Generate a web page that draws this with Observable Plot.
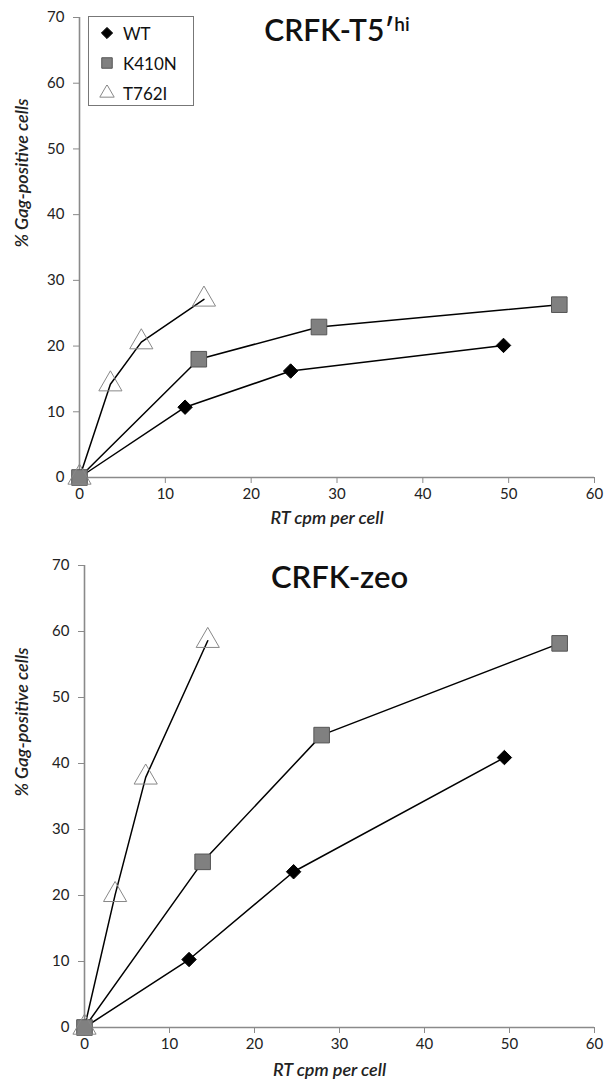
<!DOCTYPE html>
<html>
<head>
<meta charset="utf-8">
<script src="https://cdn.jsdelivr.net/npm/d3@7"></script>
<script src="https://cdn.jsdelivr.net/npm/@observablehq/plot@0.6"></script>
<style>
  html, body { margin: 0; padding: 0; background: #fff; }
  #wrap { position: relative; width: 604px; height: 1083px; font-family: Lato, "Open Sans", sans-serif; }
  .chart svg { display: block; }
  .legend { position: absolute; left: 88px; top: 16px; width: 104px; height: 88px; border: 1px solid #777; background: #fff; }
  .legend .item { position: absolute; left: 10px; height: 26px; display: flex; align-items: center; font-size: 17px; color: #111; }
  .legend .item svg { margin-right: 8px; }
</style>
</head>
<body>
<div id="wrap">
  <div class="chart" id="top"></div>
  <div class="chart" id="bottom"></div>
</div>
<script>
// ---- data ----
const seriesNames = ["WT", "K410N", "T762I"];
const wtX = [0, 12.3, 24.6, 49.4];
const k410nX = [0, 13.9, 27.9, 55.9];
const t762iX = [0, 3.6, 7.2, 14.5];

const wtTop = [0, 10.7, 16.2, 20.1];
const k410nTop = [0, 18.0, 22.9, 26.3];
const t762iTop = [0, 14.2, 20.6, 27.1];

const wtBottom = [0, 10.3, 23.6, 40.9];
const k410nBottom = [0, 25.1, 44.3, 58.2];
const t762iBottom = [0, 20.1, 37.9, 58.6];

const xTicks = [0, 10, 20, 30, 40, 50, 60];
const yTicks = [0, 10, 20, 30, 40, 50, 60, 70];
const titleTop = "CRFK-T5′hi";
const titleBottom = "CRFK-zeo";
const xLabel = "RT cpm per cell";
const yLabel = "% Gag-positive cells";

const styles = {
  WT: {symbol: "diamond2", r: 6.5, fill: "#000", stroke: "#000"},
  K410N: {symbol: "square", r: 8.8, fill: "#808080", stroke: "#555"},
  T762I: {symbol: "triangle", r: 8.6, fill: "none", stroke: "#888"}
};

function rows(xs, ys, name) { return xs.map((x, i) => ({x, y: ys[i], series: name})); }

function makeChart({data, title, width, height, marginLeft, marginTop, marginBottom, ylabDx, xlabDy, titleDy, titleSize}) {
  const marks = [
    Plot.ruleX([0], {stroke: "#8a8a8a", strokeWidth: 1.6}),
    Plot.ruleY([0], {stroke: "#8a8a8a", strokeWidth: 1.6}),
    Plot.axisX({ticks: xTicks, tickSize: 6, tickPadding: 5, fontSize: 15, label: null, stroke: "#8a8a8a"}),
    Plot.axisY({ticks: yTicks, tickSize: 6, tickPadding: 9, fontSize: 15, label: null, stroke: "#8a8a8a"})
  ];
  for (const name of seriesNames) {
    const d = data.filter(r => r.series === name);
    marks.push(Plot.line(d, {x: "x", y: "y", stroke: "#000", strokeWidth: 1.5}));
  }
  for (const name of seriesNames) {
    const d = data.filter(r => r.series === name);
    const s = styles[name];
    marks.push(Plot.dot(d, {x: "x", y: "y", symbol: () => s.symbol, r: s.r, fill: s.fill, stroke: s.stroke, strokeWidth: 1}));
  }
  marks.push(Plot.text([title], {frameAnchor: "top", dy: titleDy, fontSize: titleSize, fontWeight: 600, fill: "#111", className: "ttl"}));
  marks.push(Plot.text([xLabel], {frameAnchor: "bottom", lineAnchor: "middle", dx: -10, dy: xlabDy, fontSize: 18, fontWeight: 600, fontStyle: "italic", fill: "#222"}));
  marks.push(Plot.text([yLabel], {frameAnchor: "left", dx: ylabDx, rotate: -90, fontSize: 18, fontWeight: 600, fontStyle: "italic", fill: "#222"}));
  return Plot.plot({
    width, height, marginLeft, marginRight: 10, marginTop, marginBottom,
    style: {fontFamily: "Lato, 'Open Sans', sans-serif", color: "#222", background: "#fff"},
    x: {domain: [0, 60]},
    y: {domain: [0, 70]},
    symbol: {type: "identity"},
    marks
  });
}

const topData = [...rows(wtX, wtTop, "WT"), ...rows(k410nX, k410nTop, "K410N"), ...rows(t762iX, t762iTop, "T762I")];
const bottomData = [...rows(wtX, wtBottom, "WT"), ...rows(k410nX, k410nBottom, "K410N"), ...rows(t762iX, t762iBottom, "T762I")];

const topChart = makeChart({data: topData, title: titleTop, width: 604, height: 533, marginLeft: 79, marginTop: 17, marginBottom: 56, ylabDx: -57, xlabDy: 41, titleDy: 2, titleSize: 30});
const bottomChart = makeChart({data: bottomData, title: titleBottom, width: 604, height: 550, marginLeft: 84, marginTop: 32, marginBottom: 56, ylabDx: -62, xlabDy: 43, titleDy: 0, titleSize: 31});

document.getElementById("top").appendChild(topChart);
document.getElementById("bottom").appendChild(bottomChart);

// superscript "hi" in the top title
d3.select(topChart).selectAll("g.ttl text").each(function() {
  const t = d3.select(this);
  const txt = t.text();
  const idx = txt.indexOf("hi");
  if (idx > 0) {
    t.text(txt.slice(0, idx));
    t.append("tspan").attr("font-size", 19).attr("dy", "-0.5em").text("hi");
  }
});

// legend (top chart)
const legend = document.createElement("div");
legend.className = "legend";
seriesNames.forEach((name, i) => {
  const s = styles[name];
  const item = document.createElement("div");
  item.className = "item";
  item.style.top = (3 + i * 30) + "px";
  const sym = d3.symbol().type(
    s.symbol === "diamond2" ? d3.symbolDiamond2 : s.symbol === "square" ? d3.symbolSquare : d3.symbolTriangle
  ).size(s.symbol === "diamond2" ? 80 : s.symbol === "square" ? 110 : 90)();
  item.innerHTML = `<svg width="16" height="16" viewBox="-8 -8 16 16"><path d="${sym}" fill="${s.fill === "none" ? "#fff" : s.fill}" stroke="${s.stroke}" stroke-width="1"/></svg><span>${name}</span>`;
  legend.appendChild(item);
});
document.getElementById("wrap").appendChild(legend);
</script>
</body>
</html>
